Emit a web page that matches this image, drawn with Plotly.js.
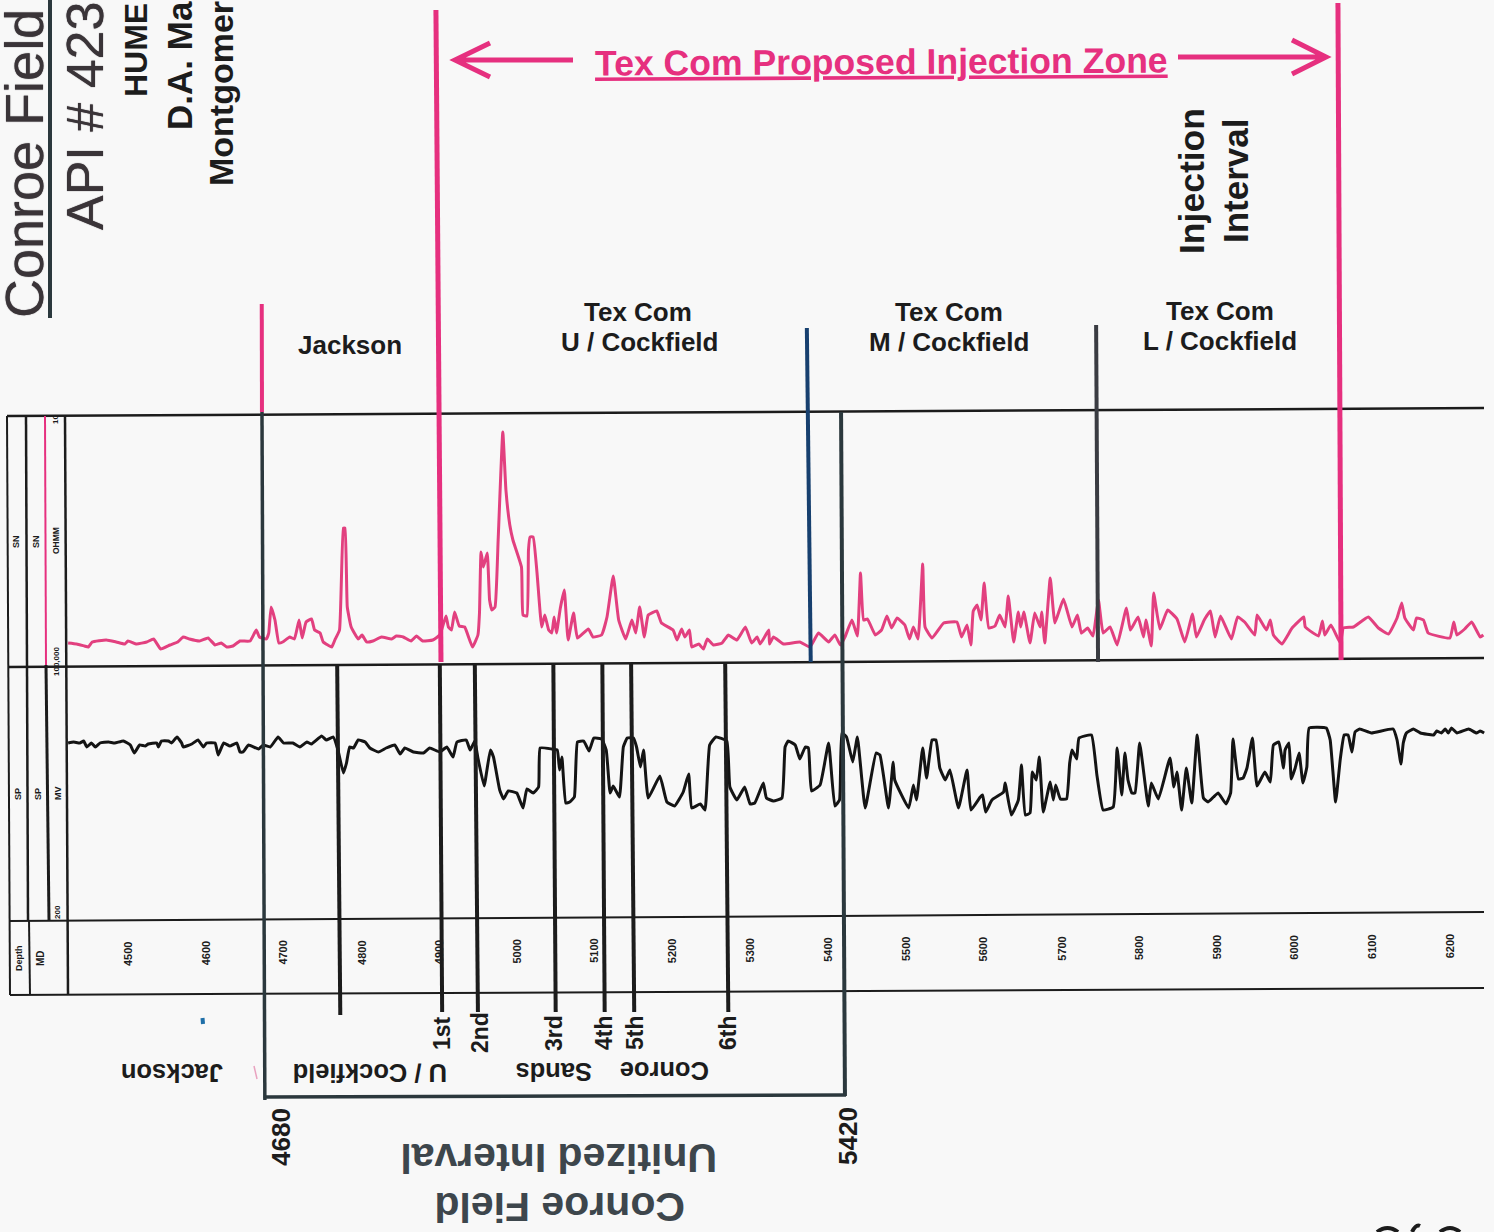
<!DOCTYPE html>
<html><head><meta charset="utf-8">
<script src="https://cdn.plot.ly/plotly-3.0.1.min.js"></script>
<style>html,body{margin:0;padding:0;background:#f8f8f8}#c{width:1494px;height:1232px}</style>
</head><body><div id="c"></div>
<script>
// Resistivity curve (depth ft, track reading)
const resDepth=[4423,4434,4444,4449,4454,4472,4485,4496,4500,4511,4524,4533,4542,4554,4564,4571,4579,4592,4603,4612,4620,4627,4635,4644,4657,4665,4669,4678,4681,4684,4689,4694,4699,4708,4714,4720,4724,4729,4736,4740,4747,4751,4757,4762,4766,4772,4777,4779,4782,4787,4796,4801,4807,4815,4826,4839,4845,4854,4864,4871,4879,4892,4901,4909,4912,4916,4920,4926,4933,4943,4950,4952,4954,4957,4962,4965,4968,4972,4976,4982,4986,4991,4995,5006,5008,5013,5015,5017,5021,5026,5032,5036,5041,5045,5048,5051,5056,5061,5066,5073,5078,5092,5098,5109,5116,5124,5131,5140,5148,5153,5158,5164,5169,5180,5186,5201,5206,5212,5216,5222,5225,5234,5240,5245,5253,5264,5272,5283,5294,5302,5309,5313,5324,5325,5330,5343,5364,5377,5388,5401,5409,5416,5422,5431,5438,5442,5446,5451,5461,5469,5476,5482,5489,5499,5505,5510,5516,5522,5525,5534,5549,5566,5572,5579,5584,5587,5592,5597,5601,5607,5615,5621,5628,5632,5639,5645,5648,5652,5660,5666,5673,5675,5679,5686,5692,5703,5714,5721,5726,5734,5741,5748,5754,5763,5772,5784,5789,5799,5806,5809,5816,5819,5827,5837,5849,5859,5869,5874,5884,5892,5898,5905,5919,5927,5936,5949,5952,5964,5969,5973,5984,5997,6012,6014,6031,6036,6039,6047,6059,6063,6076,6095,6108,6121,6132,6138,6142,6153,6157,6166,6172,6200,6205,6209,6219,6228,6239,6243];
const resValue=[25,24,22,21,26,28,26,24,27,24,26,29,19,23,26,31,29,27,30,23,25,21,22,27,27,38,31,29,35,61,48,25,26,31,29,48,30,46,49,38,35,26,23,21,28,38,140,140,61,41,29,33,26,27,31,29,32,31,27,32,27,28,33,52,41,38,56,42,41,21,33,55,116,101,115,68,58,61,128,236,178,143,128,101,53,52,118,131,131,95,41,53,38,35,51,35,60,78,28,55,30,39,31,33,51,92,48,29,48,35,61,31,53,57,45,38,28,39,31,38,21,24,19,29,23,25,33,28,41,25,31,24,38,24,31,24,26,21,35,26,33,23,31,48,32,95,48,49,33,38,52,40,50,43,29,41,29,104,41,30,45,46,31,43,23,57,63,48,85,40,42,53,41,72,26,56,41,56,25,55,41,56,25,90,45,69,41,53,35,40,32,68,35,41,23,60,38,51,31,48,22,75,39,58,49,26,54,31,48,57,31,52,29,51,46,33,53,38,48,33,24,40,51,41,32,47,33,43,25,40,41,51,40,34,50,65,50,38,50,48,35,30,46,33,39,46,31,33];
// SP curve (depth ft, track reading)
const spDepth=[4423,4430,4438,4443,4447,4453,4458,4464,4475,4483,4494,4503,4508,4515,4522,4526,4537,4539,4543,4552,4556,4563,4569,4571,4582,4590,4597,4601,4612,4616,4623,4631,4640,4644,4648,4655,4668,4674,4683,4693,4700,4712,4721,4730,4736,4749,4755,4764,4770,4777,4781,4785,4790,4796,4805,4811,4822,4832,4843,4850,4856,4867,4880,4888,4901,4910,4918,4923,4935,4940,4946,4950,4958,4966,4970,4978,4983,4989,5000,5008,5013,5021,5028,5030,5045,5052,5055,5058,5063,5068,5074,5078,5086,5093,5099,5109,5115,5120,5124,5132,5137,5142,5150,5154,5159,5163,5169,5184,5193,5203,5214,5221,5225,5236,5242,5248,5256,5270,5274,5283,5293,5300,5306,5317,5321,5330,5341,5345,5349,5358,5364,5371,5375,5379,5390,5401,5409,5415,5418,5424,5432,5438,5448,5462,5467,5478,5484,5486,5504,5510,5514,5522,5527,5534,5539,5544,5551,5557,5568,5579,5584,5596,5599,5603,5611,5626,5628,5636,5645,5649,5654,5660,5663,5668,5672,5677,5686,5690,5693,5699,5707,5711,5714,5720,5723,5739,5746,5754,5767,5772,5778,5782,5786,5791,5795,5801,5812,5816,5825,5840,5845,5849,5855,5861,5868,5875,5883,5889,5896,5902,5912,5918,5921,5928,5934,5939,5946,5952,5962,5969,5973,5980,5986,5988,5993,5996,6001,6006,6011,6016,6019,6041,6046,6053,6059,6064,6069,6074,6078,6084,6099,6127,6132,6137,6140,6144,6153,6162,6179,6183,6189,6194,6198,6202,6209,6224,6234,6239,6244];
const spValue=[180,181,180,182,176,180,176,180,181,180,182,178,170,178,177,179,180,176,182,182,180,186,180,176,179,183,176,180,180,168,180,177,180,171,171,178,174,178,176,186,180,180,176,181,179,187,183,186,173,150,160,176,175,183,181,175,171,175,178,169,175,171,170,175,171,176,166,181,183,173,182,165,137,173,166,133,124,132,130,115,134,130,136,175,174,173,153,166,120,121,126,181,182,172,185,184,173,130,137,126,176,185,185,176,156,173,125,147,121,117,131,149,115,119,113,178,186,182,136,123,136,119,120,140,125,122,125,176,182,178,164,176,175,132,138,180,117,123,190,186,161,186,115,170,168,115,161,143,115,138,123,175,145,183,183,155,143,153,115,153,113,126,128,111,123,131,140,108,123,158,108,110,151,143,166,111,141,123,138,124,124,160,173,164,185,188,148,113,116,175,128,170,143,130,130,180,117,140,124,165,136,151,113,155,120,188,125,121,126,130,119,130,184,144,145,155,185,137,151,141,178,181,155,173,180,144,155,170,140,156,195,195,183,121,164,188,188,171,191,194,190,194,183,159,180,190,194,190,188,192,190,194,190,195,190,194,190,192,190];
// Depth track
const depthTicks=[4500,4600,4700,4800,4900,5000,5100,5200,5300,5400,5500,5600,5700,5800,5900,6000,6100,6200];
// Formation picks: depth at top and bottom of each scanned line
const jacksonPink=[4672,4672.3];
const jacksonTop=[4672.3,4676];
const zoneTop=[4896,4902.5];
const zoneBase=[6056,6060];
const mCockfield=[5373,5378];
const unitBase=[5417,5422];
const lCockfield=[5745,5747.5];
const sandNames=['1st','2nd','3rd','4th','5th','6th'];
const sandDepths=[[4901,4904],[4946,4950],[5047,5050],[5110,5113],[5147,5151],[5268,5272]];
const cockfieldTop=[4769,4773];

const W=1494,H=1232;
const PINK='#e6307f',INK='#1c1c1c',SLATE='#2b383d',BLUE='#17406f',CURVE='#e2407f',GREY='#3a3c42';
const FONT='"Liberation Sans", Arial, sans-serif';
const xp=p=>p/W, yp=p=>1-p/H;
const pageLine=(x0,y0,x1,y1,color,width)=>({type:'line',xref:'paper',yref:'paper',x0:xp(x0),y0:yp(y0),x1:xp(x1),y1:yp(y1),line:{color,width}});
const depthLine=(d,y0,y1,color,width)=>({type:'line',xref:'x',yref:'paper',x0:d[0],x1:d[1],y0:yp(y0),y1:yp(y1),line:{color,width}});
const txt=(text,x,y,size,o={})=>Object.assign({text,xref:'paper',yref:'paper',x:xp(x),y:yp(y),xanchor:'center',yanchor:'middle',showarrow:false,font:{family:FONT,size,color:INK,weight:700}},o);
const rot=(text,x,y,size,o={})=>txt(text,x,y,size,Object.assign({textangle:-90},o));
const flip=(text,x,y,size,o={})=>txt(text,x,y,size,Object.assign({textangle:180},o));
const heavy=(size,color)=>({font:{family:FONT,size,color,weight:400,shadow:`0 0 1px ${color}`}});
const arc=(a,b,c,d)=>({type:'path',xref:'paper',yref:'paper',path:`M ${xp(a)} ${yp(b)} Q ${xp((a+c)/2)} ${yp(b-8)} ${xp(c)} ${yp(d)}`,line:{color:INK,width:4}});

const shapes=[
 pageLine(7,416,1484,408,INK,2.5),pageLine(8,667,1484,658,INK,2.5),pageLine(10,921,1484,912,INK,2),pageLine(10,995,1484,988,INK,2),
 pageLine(7,416,10,995,INK,2),pageLine(26,416,28,920,INK,2.5),pageLine(29,920,30,995,INK,2),
 pageLine(45,416,46,665,PINK,2),pageLine(46,665,49,920,INK,3),pageLine(65,416,68,995,INK,2.5),
 pageLine(50,0,50,318,SLATE,4),
 depthLine(jacksonPink,304,412,PINK,4),depthLine(jacksonTop,412,1100,SLATE,3.5),
 depthLine(zoneTop,10,662,PINK,5),depthLine(zoneBase,3,660,PINK,5),
 depthLine(mCockfield,328,662,BLUE,4),depthLine(unitBase,412,1096,SLATE,4),depthLine(lCockfield,325,662,GREY,4),
 depthLine(cockfieldTop,665,1015,INK,4),
 ...sandDepths.map(d=>depthLine(d,664,1012,INK,4)),
 pageLine(264,1097,846,1095,SLATE,3.5),
 {type:'path',xref:'paper',yref:'paper',path:`M ${xp(573)} ${yp(60)} L ${xp(455)} ${yp(60)} M ${xp(490)} ${yp(43)} L ${xp(455)} ${yp(60)} L ${xp(490)} ${yp(77)}`,line:{color:PINK,width:5}},
 {type:'path',xref:'paper',yref:'paper',path:`M ${xp(1178)} ${yp(57)} L ${xp(1326)} ${yp(57)} M ${xp(1292)} ${yp(40)} L ${xp(1326)} ${yp(57)} L ${xp(1292)} ${yp(74)}`,line:{color:PINK,width:5}},
 pageLine(254,1066,257,1079,'#e9a3c0',1.5),
 pageLine(202.5,1018,203,1024,'#1f6fa8',4),
 arc(1377,1232,1398,1232),arc(1412,1232,1420,1226),arc(1440,1232,1460,1232)
];

const annotations=[
 txt('<u>Tex Com Proposed Injection Zone</u>',881,62,35.6,{textangle:-0.3,font:{family:FONT,size:35.6,color:PINK,weight:700}}),
 txt('Jackson',350,345,26),txt('Tex Com',638,312,26),txt('U / Cockfield',639,342,26),
 txt('Tex Com',949,312,26),txt('M / Cockfield',949,342,26),txt('Tex Com',1220,311,26),txt('L / Cockfield',1220,341,26),
 rot('Injection',1192,181,35.5),rot('Interval',1236,181,35),
 rot('Conroe Field',24,164,54,heavy(54,'#3a3438')),
 rot('API # 423',85,116,52,heavy(52,'#3a3438')),
 rot('HUME',136,50,32),rot('D.A. Ma',179,66,35),rot('Montgomer',221,94,34),
 rot('SN',16,542,9),rot('SN',36,542,9),rot('OHMM',56,541,8.5),rot('10',56,420,8),rot('100,000',56,662,8),
 rot('SP',18,794,9),rot('SP',38,794,9),rot('MV',58,793,9),rot('200',57,912,8),
 rot('Depth',19,958,9),rot('MD',40,958,10),
 ...depthTicks.map((d,i)=>({text:String(d),xref:'x',yref:'paper',x:d,y:yp(954-i*0.45),xanchor:'center',yanchor:'middle',textangle:-90,showarrow:false,font:{family:FONT,size:11,color:INK,weight:700}})),
 ...sandNames.map((s,i)=>rot(s,[442,480,554,604,635,728][i],1033,23)),
 rot('4680',281,1137,26),rot('5420',848,1136,26),
 flip('Jackson',172,1073,25.5),flip('U / Cockfield',370,1073,25.5),flip('Sands',554,1072,25.5),flip('Conroe',665,1071,25.5),
 flip('Unitized Interval',559,1158,41,{font:{family:FONT,size:41,color:'#3d464c',weight:700}}),
 flip('Conroe Field',560,1207,41,{font:{family:FONT,size:41,color:'#3d464c',weight:700}})
];

const x0=4500-128*1.286, x1=4500+(W-128)*1.286;
Plotly.newPlot('c',[
 {x:resDepth,y:resValue,xaxis:'x',yaxis:'y',mode:'lines',name:'Resistivity',line:{color:CURVE,width:3,shape:'spline',smoothing:0.35}},
 {x:spDepth,y:spValue,xaxis:'x',yaxis:'y2',mode:'lines',name:'SP',line:{color:'#141414',width:3,shape:'spline',smoothing:0.35}}
],{
 width:W,height:H,paper_bgcolor:'#f8f8f8',plot_bgcolor:'rgba(0,0,0,0)',showlegend:false,
 margin:{l:0,r:0,t:0,b:0},
 xaxis:{range:[x0,x1],visible:false,domain:[0,1]},
 yaxis:{range:[0,256],visible:false,domain:[1-668/H,1-412/H]},
 yaxis2:{range:[0,255],visible:false,domain:[1-923/H,1-668/H]},
 shapes,annotations
},{staticPlot:true,displayModeBar:false});
</script></body></html>
